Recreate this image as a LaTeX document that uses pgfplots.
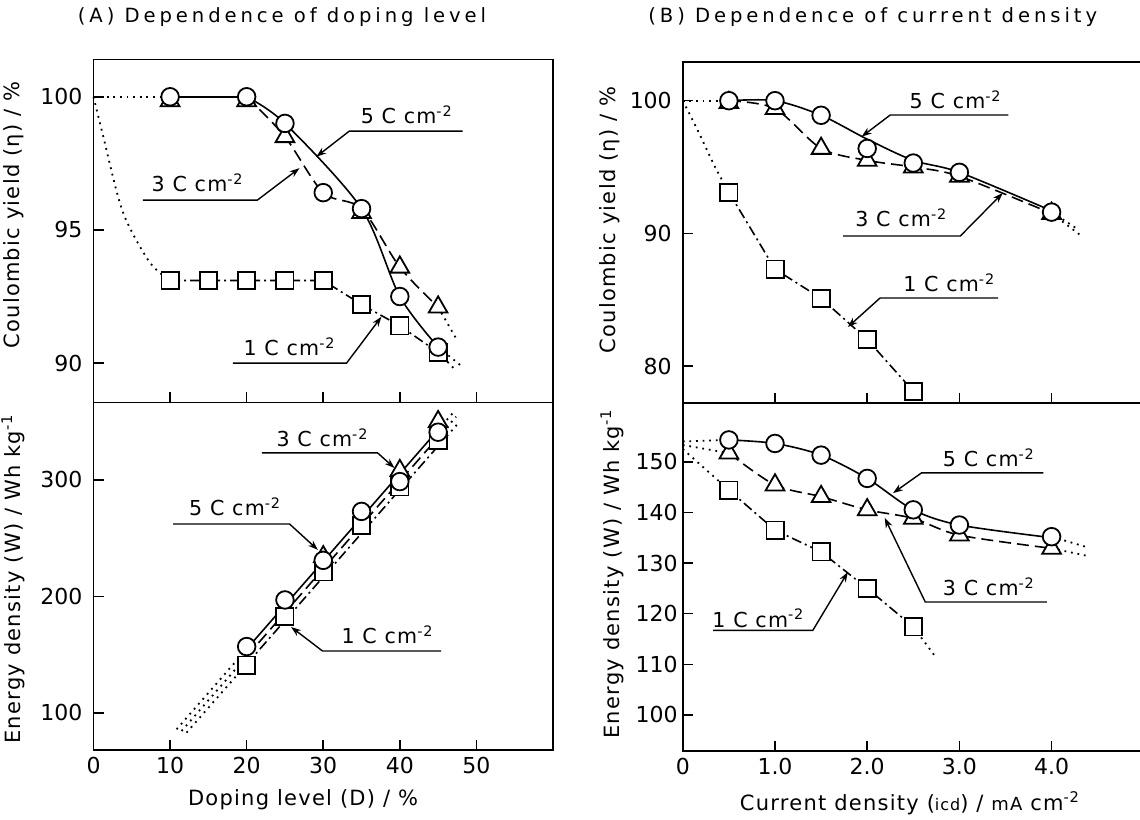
\documentclass[border=0pt]{standalone}
\usepackage{fontspec}
\setmainfont{DejaVu Sans}[LetterSpace=6]
\newfontfamily\titlefont{DejaVu Sans}[LetterSpace=20]
\newfontfamily\tickfont{DejaVu Sans}
\usepackage{pgfplots}
\pgfplotsset{compat=1.18}
\usetikzlibrary{arrows.meta}

\pgfplotsset{
  panel/.style={
    scale only axis,
    axis line style={line width=0.9pt},
    tick style={line width=0.8pt, black},
    tick align=inside,
    xtick pos=left, ytick pos=left,
    major tick length=5pt,
    ticklabel style={font=\tickfont\fontsize{11}{12}\selectfont},
    /pgf/number format/assume math mode=true,
    clip=false,
  },
  line5/.style={black, line width=0.8pt, solid},
  line3/.style={black, line width=0.8pt, dash pattern=on 6pt off 3pt},
  line1/.style={black, line width=0.8pt, dash pattern=on 5pt off 2pt on 1pt off 2pt},
  dotline/.style={black, line width=0.9pt, dash pattern=on 0.9pt off 2.4pt},
  circ/.style={only marks, mark=*, mark size=4.4pt, mark options={solid, fill=white, draw=black, line width=0.9pt}},
  tri/.style={only marks, mark=triangle*, mark size=5.4pt, mark options={solid, fill=white, draw=black, line width=0.9pt}},
  sqr/.style={only marks, mark=square*, mark size=4.3pt, mark options={solid, fill=white, draw=black, line width=0.9pt}},
}
\tikzset{
  lbl/.style={font=\fontsize{10.3}{12}\selectfont, inner sep=0pt},
  lead/.style={draw=black, line width=0.7pt, -{Stealth[length=5pt,width=3.5pt]}},
  axlbl/.style={font=\fontsize{10.5}{12}\selectfont, inner sep=0pt},
}

\begin{document}
\begin{tikzpicture}
\useasboundingbox (0,0) rectangle (570pt,409.5pt);

% ---------- (A) top: coulombic yield vs doping level ----------
\begin{axis}[panel, at={(46.75pt,208.25pt)}, anchor=south west,
  width=229.75pt, height=171.5pt,
  xmin=0, xmax=60, ymin=88.52, ymax=101.40,
  xtick={10,20,30,40,50}, xticklabels={},
  ytick={90,95,100},
  yticklabel style={xshift=-2pt}]
  \addplot[dotline] coordinates {(0,100) (10,100)};
  \addplot[dotline, smooth] coordinates {(0,100) (1.2,98.6) (3.8,95.7) (7.3,93.8) (10,93.1)};
  % 5 C cm-2
  \addplot[line5] coordinates {(10,100) (20,100)};
  \addplot[line5, smooth] coordinates {(20,100) (25,99.0) (35,95.8) (40,92.5) (45,90.6)};
  \addplot[dotline] coordinates {(45,90.6) (48,89.9)};
  % 3 C cm-2
  \addplot[line3, smooth] coordinates {(20,100) (25,98.5) (30,96.4) (35,95.8) (40,93.6) (45,92.1)};
  \addplot[dotline] coordinates {(45,92.1) (47.4,90.9)};
  % 1 C cm-2
  \addplot[line1] coordinates {(10,93.1) (15,93.1) (20,93.1) (25,93.1) (30,93.1) (35,92.2) (40,91.4) (45,90.4)};
  \addplot[dotline] coordinates {(45,90.4) (47.4,89.7)};
  % points
  \addplot[sqr] coordinates {(10,93.1) (15,93.1) (20,93.1) (25,93.1) (30,93.1) (35,92.2) (40,91.4) (45,90.4)};
  \addplot[tri] coordinates {(10,99.85) (20,99.85) (25,98.5) (35,95.65) (40,93.6) (45,92.1)};
  \addplot[circ] coordinates {(10,100) (20,100) (25,99.0) (30,96.4) (35,95.8) (40,92.5) (45,90.6)};
  % annotations
  \node[lbl] at (axis cs:40.9,99.31) {5 C cm\textsuperscript{-2}};
  \draw[lead] (axis cs:48.2,98.71) -- (axis cs:33.4,98.71) -- (axis cs:29.1,97.75);
  \node[lbl] at (axis cs:13.6,96.76) {3 C cm\textsuperscript{-2}};
  \draw[lead] (axis cs:6.45,96.12) -- (axis cs:21.4,96.12) -- (axis cs:26.9,97.32);
  \node[lbl] at (axis cs:25.6,90.6) {1 C cm\textsuperscript{-2}};
  \draw[lead] (axis cs:18.2,90.0) -- (axis cs:33.05,90.0) -- (axis cs:37.6,91.74);
\end{axis}

% ---------- (A) bottom: energy density vs doping level ----------
\begin{axis}[panel, at={(46.75pt,34.5pt)}, anchor=south west,
  width=229.75pt, height=173.75pt,
  xmin=0, xmax=60, ymin=68.2, ymax=366.5,
  xtick={0,10,20,30,40,50},
  ytick={100,200,300},
  yticklabel style={xshift=-2pt}]
  % 5 C cm-2
  \addplot[dotline] coordinates {(10.85,86.0) (20,154.9)};
  \addplot[line5] coordinates {(20,154.9) (45,343.0)};
  \addplot[dotline] coordinates {(45,343.0) (46.9,357.3)};
  % 3 C cm-2
  \addplot[dotline] coordinates {(11.5,84.5) (20,148.5)};
  \addplot[line3] coordinates {(20,148.5) (45,336.6)};
  \addplot[dotline] coordinates {(45,336.6) (47.35,354.3)};
  % 1 C cm-2
  \addplot[dotline] coordinates {(12.15,83.1) (20,141.9)};
  \addplot[line1] coordinates {(20,141.9) (45,329.1)};
  \addplot[dotline] coordinates {(45,329.1) (47.8,350.0)};
  % points
  \addplot[sqr] coordinates {(20,141) (25,183) (30,221) (35,261) (40,294) (45,334)};
  \addplot[tri] coordinates {(30,234) (40,308) (45,350)};
  \addplot[circ] coordinates {(20,157) (25,197) (30,231) (35,273) (40,298.6) (45,341)};
  % annotations
  \node[lbl] at (axis cs:29.9,336) {3 C cm\textsuperscript{-2}};
  \draw[lead] (axis cs:22.0,323.2) -- (axis cs:37.1,323.2) -- (axis cs:39.3,310.3);
  \node[lbl] at (axis cs:18.5,276.8) {5 C cm\textsuperscript{-2}};
  \draw[lead] (axis cs:10.4,262.2) -- (axis cs:25.6,262.2) -- (axis cs:29.3,240);
  \node[lbl] at (axis cs:38.4,167) {1 C cm\textsuperscript{-2}};
  \draw[lead] (axis cs:45.4,153.2) -- (axis cs:29.9,153.2) -- (axis cs:25.8,173.8);
\end{axis}

% ---------- (B) top: coulombic yield vs current density ----------
\begin{axis}[panel, at={(341.4pt,207.85pt)}, anchor=south west,
  width=235.1pt, height=170.8pt,
  xmin=0, xmax=5.1, ymin=77.19, ymax=102.94,
  xtick={1,2,3,4}, xticklabels={},
  ytick={80,90,100},
  yticklabel style={xshift=-2pt}]
  \addplot[dotline] coordinates {(0,100) (0.5,100)};
  \addplot[dotline, smooth] coordinates {(0,100) (0.18,97.5) (0.35,95.0) (0.5,93.1)};
  % 5 C cm-2
  \addplot[line5, smooth] coordinates {(0.5,100) (1.0,100) (1.5,98.9) (2.0,97.1) (2.5,95.5) (3.0,94.6) (4.0,91.7)};
  \addplot[dotline] coordinates {(4.0,91.6) (4.27,90.38)};
  % 3 C cm-2
  \addplot[line3, smooth] coordinates {(0.5,100) (1.0,99.4) (1.5,96.4) (2.0,95.5) (2.5,95.0) (3.0,94.3) (4.0,91.5)};
  \addplot[dotline] coordinates {(4.0,91.5) (4.31,89.88)};
  % 1 C cm-2
  \addplot[line1] coordinates {(0.5,93.1) (1.0,87.3) (1.5,85.1) (2.0,82.0) (2.5,78.1)};
  % points
  \addplot[sqr] coordinates {(0.5,93.1) (1.0,87.3) (1.5,85.1) (2.0,82.0) (2.5,78.1)};
  \addplot[tri] coordinates {(0.5,99.85) (1.0,99.4) (1.5,96.4) (2.0,95.5) (2.5,95.0) (3.0,94.3) (4.0,91.5)};
  \addplot[circ] coordinates {(0.5,100) (1.0,100) (1.5,98.9) (2.0,96.4) (2.5,95.3) (3.0,94.6) (4.0,91.6)};
  % annotations
  \node[lbl] at (axis cs:2.96,100.05) {5 C cm\textsuperscript{-2}};
  \draw[lead] (axis cs:3.53,98.92) -- (axis cs:2.25,98.92) -- (axis cs:1.94,97.29);
  \node[lbl] at (axis cs:2.37,91.16) {3 C cm\textsuperscript{-2}};
  \draw[lead] (axis cs:1.74,89.8) -- (axis cs:3.01,89.8) -- (axis cs:3.47,93.04);
  \node[lbl] at (axis cs:2.89,86.26) {1 C cm\textsuperscript{-2}};
  \draw[lead] (axis cs:3.42,85.13) -- (axis cs:2.14,85.13) -- (axis cs:1.79,82.94);
\end{axis}

% ---------- (B) bottom: energy density vs current density ----------
\begin{axis}[panel, at={(341.4pt,34.15pt)}, anchor=south west,
  width=235.1pt, height=173.7pt,
  xmin=0, xmax=5.1, ymin=92.95, ymax=161.53,
  xtick={0,1,2,3,4}, xticklabels={0,1.0,2.0,3.0,4.0},
  ytick={100,110,120,130,140,150},
  yticklabel style={xshift=1pt}]
  \addplot[dotline] coordinates {(0,154.0) (0.5,154.3)};
  \addplot[dotline] coordinates {(0,153.3) (0.5,151.7)};
  \addplot[dotline] coordinates {(0,152.5) (0.5,144.4)};
  % 5 C cm-2
  \addplot[line5, smooth] coordinates {(0.5,154.3) (1.0,153.6) (1.5,151.3) (2.0,146.7) (2.5,140.5) (3.0,137.5) (4.0,135.0)};
  \addplot[dotline] coordinates {(4.0,135.2) (4.39,133.1)};
  % 3 C cm-2
  \addplot[line3, smooth] coordinates {(0.5,151.7) (1.0,145.4) (1.5,143.1) (2.0,140.5) (2.5,138.8) (3.0,135.5) (4.0,132.9)};
  \addplot[dotline] coordinates {(4.0,132.9) (4.39,131.4)};
  % 1 C cm-2
  \addplot[line1] coordinates {(0.5,144.4) (1.0,136.5) (1.5,132.2) (2.0,125.0) (2.5,117.4)};
  \addplot[dotline] coordinates {(2.5,117.4) (2.74,111.5)};
  % points
  \addplot[sqr] coordinates {(0.5,144.4) (1.0,136.5) (1.5,132.2) (2.0,125.0) (2.5,117.4)};
  \addplot[tri] coordinates {(0.5,151.7) (1.0,145.4) (1.5,143.1) (2.0,140.5) (2.5,138.8) (3.0,135.5) (4.0,132.9)};
  \addplot[circ] coordinates {(0.5,154.3) (1.0,153.6) (1.5,151.3) (2.0,146.7) (2.5,140.5) (3.0,137.5) (4.0,135.2)};
  % annotations
  \node[lbl] at (axis cs:3.32,150.7) {5 C cm\textsuperscript{-2}};
  \draw[lead] (axis cs:3.91,147.8) -- (axis cs:2.59,147.8) -- (axis cs:2.28,143.8);
  \node[lbl] at (axis cs:3.32,125.3) {3 C cm\textsuperscript{-2}};
  \draw[lead] (axis cs:3.95,122.3) -- (axis cs:2.63,122.3) -- (axis cs:2.19,138.9);
  \node[lbl] at (axis cs:0.82,119.1) {1 C cm\textsuperscript{-2}};
  \draw[lead] (axis cs:0.33,116.7) -- (axis cs:1.41,116.7) -- (axis cs:1.79,128.2);
\end{axis}

% titles and axis labels
\node[font=\titlefont\fontsize{9.8}{11}\selectfont, inner sep=0pt] at (141pt,401pt) {(A) Dependence of doping level};
\node[font=\titlefont\fontsize{9.8}{11}\selectfont, inner sep=0pt, anchor=west] at (324pt,401pt) {(B) Dependence of current density};
\node[axlbl, rotate=90] at (7pt,302pt) {Coulombic yield (η) / \%};
\node[axlbl, rotate=90] at (6.5pt,120pt) {Energy density (W) / Wh kg\textsuperscript{-1}};
\node[axlbl, rotate=90] at (305pt,299.5pt) {Coulombic yield (η) / \%};
\node[axlbl, rotate=90] at (306pt,122.5pt) {Energy density (W) / Wh kg\textsuperscript{-1}};
\node[axlbl] at (151.5pt,9.5pt) {Doping level (D) / \%};
\node[axlbl] at (455pt,8pt) {Current density ({\footnotesize icd}) / {\small mA} cm\textsuperscript{-2}};
\end{tikzpicture}
\end{document}
